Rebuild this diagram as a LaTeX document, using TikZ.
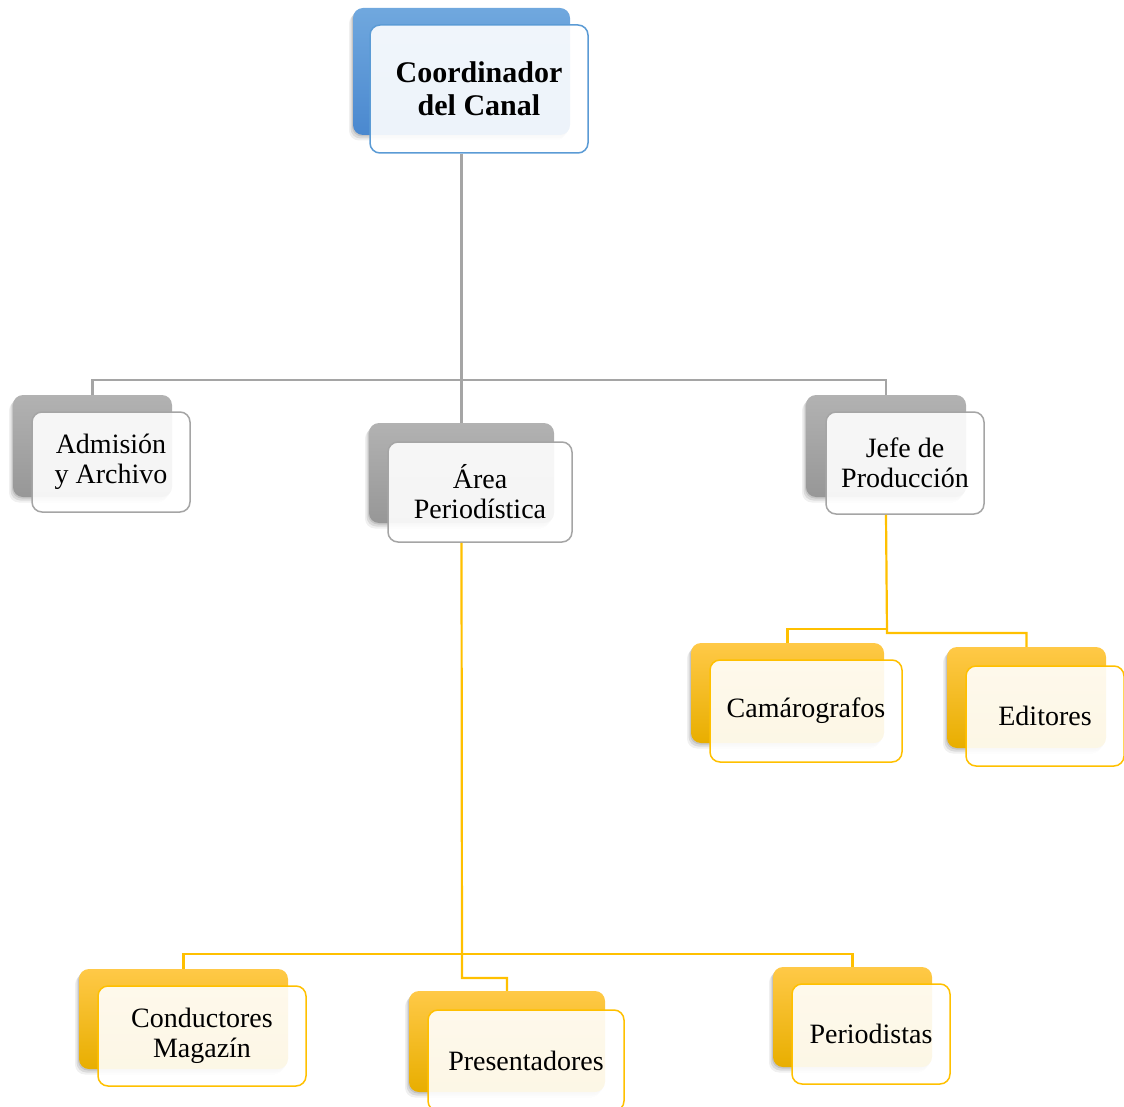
\documentclass[tikz,border=0pt]{standalone}
\usepackage{fontspec}
\setmainfont{Liberation Serif}
\usetikzlibrary{shadows}
\definecolor{blueA}{HTML}{70A8DE}
\definecolor{blueB}{HTML}{4A88CF}
\definecolor{blueLine}{HTML}{5B9BD5}
\definecolor{grayA}{HTML}{B2B2B2}
\definecolor{grayB}{HTML}{979797}
\definecolor{grayLine}{HTML}{A5A5A5}
\definecolor{yelA}{HTML}{FFC947}
\definecolor{yelM}{HTML}{FFC000}
\definecolor{yelB}{HTML}{E8AE00}
\definecolor{yelLine}{HTML}{FFC000}
\tikzset{
  x=1pt, y=-1pt,
  softshadow/.style={
    general shadow={shadow xshift=-1pt, shadow yshift=-1.5pt, opacity=0.10, fill=black},
    general shadow={shadow xshift=-2.5pt, shadow yshift=-3.5pt, opacity=0.09, fill=black},
    general shadow={shadow xshift=-4pt, shadow yshift=-5.5pt, opacity=0.06, fill=black}},
  backbox/.style={rectangle, rounded corners=10pt, inner sep=0pt, softshadow},
  backblue/.style={backbox, top color=blueA, bottom color=blueB},
  backgray/.style={backbox, top color=grayA, bottom color=grayB},
  backyel/.style={backbox, top color=yelA, middle color=yelM, bottom color=yelB},
  frontbox/.style={rectangle, rounded corners=10pt, inner sep=0pt, line width=1.5pt,
    fill=white, fill opacity=0.9, text opacity=1, align=center,
    font=\fontsize{28}{30}\selectfont},
  frontblue/.style={frontbox, draw=blueLine, font=\bfseries\fontsize{30}{33}\selectfont},
  frontgray/.style={frontbox, draw=grayLine},
  frontyel/.style={frontbox, draw=yelLine},
  grayconn/.style={draw=grayLine, line width=2.2pt},
  yelconn/.style={draw=yelLine, line width=2.2pt},
}
\begin{document}
\begin{tikzpicture}
\useasboundingbox (0,0) rectangle (1124,1107);

% Coordinador del Canal
\node[backblue, minimum width=217pt, minimum height=127pt] (coordB) at (461.5,71.5) {};
\node[frontblue, minimum width=218pt, minimum height=128pt] (coordF) at (479,89) {Coordinador\\del Canal};

% second level
\node[backgray, minimum width=159pt, minimum height=102pt] (admB) at (92.5,446) {};
\node[frontgray, minimum width=158pt, minimum height=100pt] (admF) at (111,462) {Admisión\\y Archivo};

\node[backgray, minimum width=185pt, minimum height=100pt] (areaB) at (461.5,473) {};
\node[frontgray, minimum width=184pt, minimum height=100pt] (areaF) at (480,492) {Área\\Periodística};

\node[backgray, minimum width=160pt, minimum height=102pt] (jefeB) at (886,446) {};
\node[frontgray, minimum width=158pt, minimum height=102pt] (jefeF) at (905,463) {Jefe de\\Producción};

% under Jefe de Producción
\node[backyel, minimum width=193pt, minimum height=100pt] (camB) at (787.5,693) {};
\node[frontyel, minimum width=192pt, minimum height=102pt] (camF) at (806,711) {Camárografos};

\node[backyel, minimum width=159pt, minimum height=101pt] (ediB) at (1026.5,697.5) {};
\node[frontyel, minimum width=158pt, minimum height=100pt] (ediF) at (1045,716) {Editores};

% under Área Periodística
\node[backyel, minimum width=209pt, minimum height=100pt] (conB) at (183.5,1019) {};
\node[frontyel, minimum width=208pt, minimum height=100pt] (conF) at (202,1036) {Conductores\\Magazín};

\node[backyel, minimum width=196pt, minimum height=101pt] (preB) at (507,1041.5) {};
\node[frontyel, minimum width=196pt, minimum height=101pt] (preF) at (526,1060.5) {Presentadores};

\node[backyel, minimum width=159pt, minimum height=100pt] (perB) at (852.5,1017) {};
\node[frontyel, minimum width=158pt, minimum height=100pt] (perF) at (871,1034) {Periodistas};

% gray connectors
\coordinate (gbar) at (462,380);
\draw[grayconn] (coordB.center |- coordF.south) -- (areaB.north);
\draw[grayconn] (admB.north) |- (gbar) -| (jefeB.north);

% yellow connectors from Jefe de Producción
\coordinate (jl) at (887,629);
\coordinate (jr) at (887,633);
\draw[yelconn] (jefeB.center |- jefeF.south) -- (jr) -| (ediB.north);
\draw[yelconn] (jl) -| (camB.north);

% yellow connectors from Área Periodística
\coordinate (abar) at (462,954);
\coordinate (ajog) at (462,978);
\draw[yelconn] (areaB.center |- areaF.south) -- (ajog) -| (preB.north);
\draw[yelconn] (conB.north) |- (abar) -| (perB.north);
\end{tikzpicture}
\end{document}
